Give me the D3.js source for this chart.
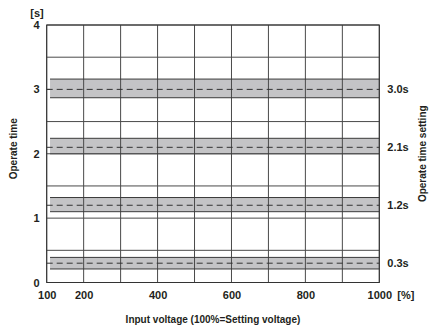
<!DOCTYPE html>
<html>
<head>
<meta charset="utf-8">
<script src="https://cdn.jsdelivr.net/npm/d3@7"></script>
<style>
  body { margin: 0; background: #fff; }
  text { font-family: "Liberation Sans", Arial, sans-serif; font-weight: bold; fill: #231f20; }
</style>
</head>
<body>
<div id="chart"></div>
<script>
// dati
const xTicks = [100, 200, 400, 600, 800, 1000];
const yTicks = [0, 1, 2, 3, 4];
const settings = [0.3, 1.2, 2.1, 3.0];
const settingLabels = ["0.3s", "1.2s", "2.1s", "3.0s"];
const bandLow = [0.21, 1.1, 2.0, 2.87];
const bandHigh = [0.39, 1.32, 2.24, 3.16];
const bandFrom = [109, 109, 109, 109];
const bandTo = [1000, 1000, 1000, 1000];

const W = 432, H = 333;
const margin = { top: 25, right: 52.7, bottom: 50.5, left: 46.7 };
const width = W - margin.left - margin.right;
const height = H - margin.top - margin.bottom;

const svg = d3.select("#chart").append("svg")
    .attr("width", W).attr("height", H);

const g = svg.append("g")
    .attr("transform", `translate(${margin.left},${margin.top})`);

const x = d3.scaleLinear().domain([100, 1000]).range([0, width]);
const y = d3.scaleLinear().domain([0, 4]).range([height, 0]);

const bands = settings.map((s, i) => ({
    s, label: settingLabels[i], lo: bandLow[i], hi: bandHigh[i], x0: bandFrom[i], x1: bandTo[i]
}));

const gridColor = "#4a4a4a";

// griglia orizzontale (ogni 0.5)
g.selectAll(".hgrid").data(y.ticks(8)).enter().append("line")
    .attr("x1", 0).attr("x2", width)
    .attr("y1", d => y(d)).attr("y2", d => y(d))
    .attr("stroke", gridColor).attr("stroke-width", 1);

// bande
g.selectAll(".band").data(bands).enter().append("rect")
    .attr("x", d => x(d.x0))
    .attr("width", d => x(d.x1) - x(d.x0))
    .attr("y", d => y(d.hi))
    .attr("height", d => y(d.lo) - y(d.hi))
    .attr("fill", "#c4c4c6");

// griglia verticale (ogni 100)
g.selectAll(".vgrid").data(x.ticks(10)).enter().append("line")
    .attr("x1", d => x(d)).attr("x2", d => x(d))
    .attr("y1", 0).attr("y2", height)
    .attr("stroke", gridColor).attr("stroke-width", 1);

// bordi delle bande
bands.forEach(b => {
    [b.lo, b.hi].forEach(v => {
        g.append("line")
            .attr("x1", x(b.x0)).attr("x2", x(b.x1))
            .attr("y1", y(v)).attr("y2", y(v))
            .attr("stroke", "#3a3a3a").attr("stroke-width", 1);
    });
});

// linee tratteggiate
g.selectAll(".dash").data(bands).enter().append("line")
    .attr("x1", 0).attr("x2", width)
    .attr("y1", d => y(d.s)).attr("y2", d => y(d.s))
    .attr("stroke", "#333").attr("stroke-width", 1)
    .attr("stroke-dasharray", "6,4");

// cornice
g.append("rect")
    .attr("width", width).attr("height", height)
    .attr("fill", "none").attr("stroke", "#333").attr("stroke-width", 1);

// assi
const xAxis = g.append("g")
    .attr("transform", `translate(0,${height})`)
    .call(d3.axisBottom(x).tickValues(xTicks).tickFormat(d3.format("d")).tickSize(0).tickPadding(9));
xAxis.select(".domain").remove();
xAxis.selectAll("text").style("font-size", "11px").attr("fill", "#231f20");

const yAxis = g.append("g")
    .call(d3.axisLeft(y).tickValues(yTicks).tickFormat(d3.format("d")).tickSize(0).tickPadding(7));
yAxis.select(".domain").remove();
yAxis.selectAll("text").style("font-size", "11px").attr("fill", "#231f20");

// unità
g.append("text").attr("x", x(1000) + 18).attr("y", height + 9)
    .attr("dy", "0.71em").style("font-size", "11px").text("[%]");
g.append("text").attr("x", -3).attr("y", -8)
    .attr("text-anchor", "end").style("font-size", "11px").text("[s]");

// etichette impostazioni
g.selectAll(".slabel").data(bands).enter().append("text")
    .attr("x", width + 8).attr("y", d => y(d.s))
    .attr("dy", "0.35em").style("font-size", "11px")
    .text(d => d.label);

// titoli
g.append("text")
    .attr("x", width / 2).attr("y", height + 40)
    .attr("text-anchor", "middle").style("font-size", "10px")
    .text("Input voltage (100%=Setting voltage)");

svg.append("text")
    .attr("transform", `translate(17,${margin.top + height / 2 - 5}) rotate(-90)`)
    .attr("text-anchor", "middle").style("font-size", "10px")
    .text("Operate time");

svg.append("text")
    .attr("transform", `translate(426,${margin.top + height / 2 + 0}) rotate(-90)`)
    .attr("text-anchor", "middle").style("font-size", "10px")
    .text("Operate time setting");
</script>
</body>
</html>
